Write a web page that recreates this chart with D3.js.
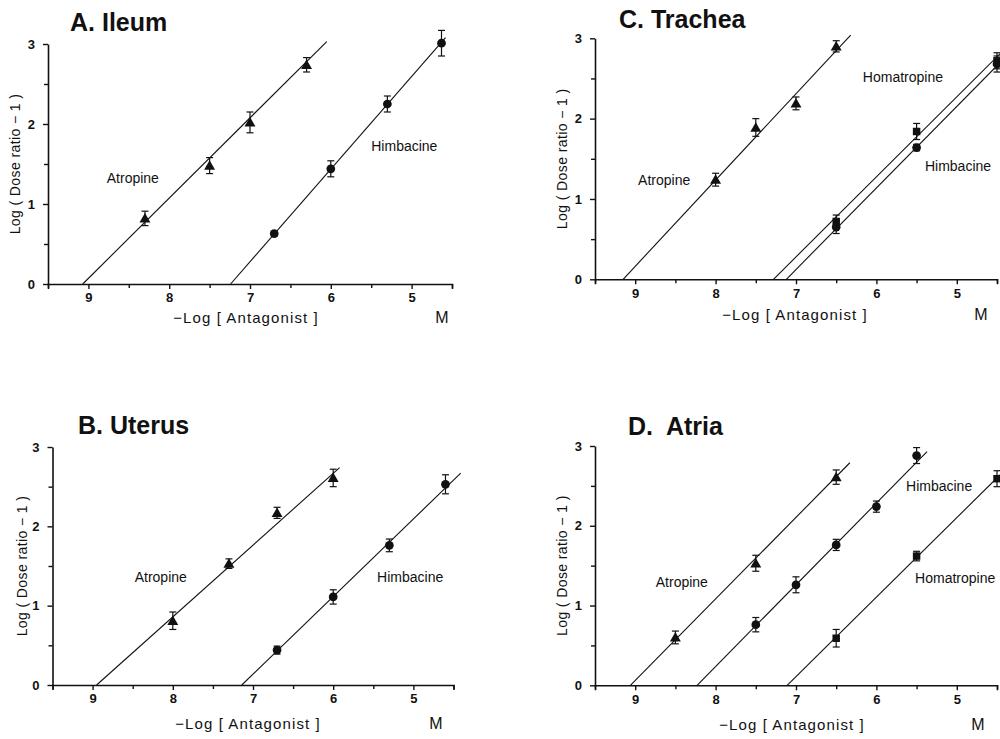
<!DOCTYPE html>
<html>
<head>
<meta charset="utf-8">
<script src="https://cdn.jsdelivr.net/npm/d3@7"></script>
<style>
  html, body { margin: 0; padding: 0; background: #fff; }
  svg { display: block; }
  text { font-family: "Liberation Sans", Arial, sans-serif; fill: #111; }
</style>
</head>
<body>
<svg id="chart" width="1000" height="739"></svg>
<script>
// ---------------- DATA ----------------
const xTicksMajor = [9, 8, 7, 6, 5];
const xTicksMinor = [9.5, 8.5, 7.5, 6.5, 5.5, 4.5];
const yTicksMajor = [0, 1, 2, 3];
const yTicksMinor = [0.5, 1.5, 2.5];
const yAxisTitle = "Log ( Dose ratio \u2212 1 )";
const xAxisTitle = "\u2212Log [ Antagonist ]";
const unitLabel = "M";

// Panel A. Ileum
const A_atropine_x = [8.3, 7.5, 7.0, 6.3];
const A_atropine_y = [0.82, 1.48, 2.02, 2.74];
const A_atropine_err = [0.09, 0.10, 0.13, 0.09];
const A_himbacine_x = [6.7, 6.0, 5.3, 4.63];
const A_himbacine_y = [0.63, 1.44, 2.25, 3.01];
const A_himbacine_err = [0.03, 0.10, 0.10, 0.16];
const A_atropine_fit = [[9.07, 0], [6.05, 3.03]];
const A_himbacine_fit = [[7.24, 0], [4.58, 3.08]];

// Panel B. Uterus
const B_atropine_x = [8.0, 7.3, 6.7, 6.0];
const B_atropine_y = [0.81, 1.53, 2.17, 2.61];
const B_atropine_err = [0.11, 0.06, 0.07, 0.11];
const B_himbacine_x = [6.7, 6.0, 5.3, 4.6];
const B_himbacine_y = [0.44, 1.11, 1.76, 2.53];
const B_himbacine_err = [0.05, 0.09, 0.08, 0.12];
const B_atropine_fit = [[8.95, 0], [5.92, 2.74]];
const B_himbacine_fit = [[7.14, 0], [4.41, 2.67]];

// Panel C. Trachea
const C_atropine_x = [8.0, 7.5, 7.0, 6.5];
const C_atropine_y = [1.24, 1.89, 2.19, 2.90];
const C_atropine_err = [0.08, 0.11, 0.08, 0.07];
const C_homatropine_x = [6.5, 5.5, 4.5];
const C_homatropine_y = [0.72, 1.84, 2.72];
const C_homatropine_err = [0.08, 0.10, 0.10];
const C_himbacine_x = [6.5, 5.5, 4.5];
const C_himbacine_y = [0.65, 1.64, 2.68];
const C_himbacine_err = [0.08, 0.04, 0.10];
const C_atropine_fit = [[9.15, 0], [6.32, 3.04]];
const C_homatropine_fit = [[7.28, 0], [4.46, 2.81]];
const C_himbacine_fit = [[7.12, 0], [4.46, 2.70]];

// Panel D. Atria
const D_atropine_x = [8.5, 7.5, 6.5];
const D_atropine_y = [0.60, 1.53, 2.61];
const D_atropine_err = [0.08, 0.10, 0.09];
const D_himbacine_x = [7.5, 7.0, 6.5, 6.0, 5.5];
const D_himbacine_y = [0.76, 1.26, 1.76, 2.24, 2.88];
const D_himbacine_err = [0.09, 0.10, 0.07, 0.07, 0.10];
const D_homatropine_x = [6.5, 5.5, 4.5];
const D_homatropine_y = [0.59, 1.62, 2.59];
const D_homatropine_err = [0.11, 0.06, 0.10];
const D_atropine_fit = [[9.06, 0], [6.33, 2.79]];
const D_himbacine_fit = [[8.23, 0], [5.37, 2.93]];
const D_homatropine_fit = [[7.11, 0], [4.46, 2.64]];

const titles = ["A. Ileum", "B. Uterus", "C. Trachea", "D.  Atria"];

// ---------------- LAYOUT ----------------
const panels = [
  { title: titles[0], xr: [48, 452], yr: [284, 44], titlePos: [70, 31], yLabX: 15, xLabY: 323, xLabCx: 246, mX: 442,
    series: [
      { shape: "triangle", x: A_atropine_x, y: A_atropine_y, e: A_atropine_err, fit: A_atropine_fit },
      { shape: "circle", x: A_himbacine_x, y: A_himbacine_y, e: A_himbacine_err, fit: A_himbacine_fit }
    ],
    labels: [ { t: "Atropine", x: 8.45, y: 1.33 }, { t: "Himbacine", x: 5.09, y: 1.73 } ] },
  { title: titles[1], xr: [52.5, 453.5], yr: [685, 447], titlePos: [78, 434], yLabX: 22, xLabY: 729, xLabCx: 248, mX: 436,
    series: [
      { shape: "triangle", x: B_atropine_x, y: B_atropine_y, e: B_atropine_err, fit: B_atropine_fit },
      { shape: "circle", x: B_himbacine_x, y: B_himbacine_y, e: B_himbacine_err, fit: B_himbacine_fit }
    ],
    labels: [ { t: "Atropine", x: 8.15, y: 1.36 }, { t: "Himbacine", x: 5.04, y: 1.36 } ] },
  { title: titles[2], xr: [595, 997], yr: [279.3, 38.3], titlePos: [619, 28], yLabX: 562, xLabY: 320, xLabCx: 795, mX: 981,
    series: [
      { shape: "triangle", x: C_atropine_x, y: C_atropine_y, e: C_atropine_err, fit: C_atropine_fit },
      { shape: "square", x: C_homatropine_x, y: C_homatropine_y, e: C_homatropine_err, fit: C_homatropine_fit },
      { shape: "circle", x: C_himbacine_x, y: C_himbacine_y, e: C_himbacine_err, fit: C_himbacine_fit }
    ],
    labels: [ { t: "Atropine", x: 8.64, y: 1.24 }, { t: "Homatropine", x: 5.67, y: 2.52 }, { t: "Himbacine", x: 4.985, y: 1.41 } ] },
  { title: titles[3], xr: [595, 997], yr: [685.3, 446], titlePos: [628, 435], yLabX: 562, xLabY: 730, xLabCx: 792, mX: 978,
    series: [
      { shape: "triangle", x: D_atropine_x, y: D_atropine_y, e: D_atropine_err, fit: D_atropine_fit },
      { shape: "circle", x: D_himbacine_x, y: D_himbacine_y, e: D_himbacine_err, fit: D_himbacine_fit },
      { shape: "square", x: D_homatropine_x, y: D_homatropine_y, e: D_homatropine_err, fit: D_homatropine_fit }
    ],
    labels: [ { t: "Atropine", x: 8.42, y: 1.29 }, { t: "Himbacine", x: 5.22, y: 2.50 }, { t: "Homatropine", x: 5.02, y: 1.34 } ] }
];

const svg = d3.select("#chart");

const symbolFor = {
  triangle: d3.symbol().type(d3.symbolTriangle).size(52),
  circle: d3.symbol().type(d3.symbolCircle).size(60),
  square: d3.symbol().type(d3.symbolSquare).size(56)
};

panels.forEach(p => {
  const x = d3.scaleLinear().domain([9.5, 4.5]).range(p.xr);
  const y = d3.scaleLinear().domain([0, 3]).range(p.yr);
  const g = svg.append("g");

  // Title
  g.append("text")
    .attr("x", p.titlePos[0]).attr("y", p.titlePos[1])
    .attr("font-size", 25).attr("font-weight", "bold")
    .style("white-space", "pre")
    .text(p.title);

  // X axis (major + minor)
  const xAxisG = g.append("g").attr("transform", `translate(0,${p.yr[0]})`);
  xAxisG.call(d3.axisBottom(x).tickValues(xTicksMajor).tickFormat(d3.format("d")).tickSize(5).tickSizeOuter(5).tickPadding(4));
  const xMinorG = g.append("g").attr("transform", `translate(0,${p.yr[0]})`);
  xMinorG.call(d3.axisBottom(x).tickValues(xTicksMinor).tickFormat("").tickSize(4).tickSizeOuter(0));
  xMinorG.select(".domain").remove();

  // Y axis
  const yAxisG = g.append("g").attr("transform", `translate(${p.xr[0]},0)`);
  yAxisG.call(d3.axisLeft(y).tickValues(yTicksMajor).tickFormat(d3.format("d")).tickSize(5).tickSizeOuter(0).tickPadding(8));
  const yMinorG = g.append("g").attr("transform", `translate(${p.xr[0]},0)`);
  yMinorG.call(d3.axisLeft(y).tickValues(yTicksMinor).tickFormat("").tickSize(4).tickSizeOuter(0));
  yMinorG.select(".domain").remove();

  [xAxisG, xMinorG, yAxisG, yMinorG].forEach(a => {
    a.selectAll(".domain").attr("stroke", "#111").attr("stroke-width", 1.6);
    a.selectAll(".tick line").attr("stroke", "#111").attr("stroke-width", 1.4);
    a.selectAll(".tick text").attr("font-size", 13).attr("font-weight", "bold")
      .style("font-family", "'Liberation Sans', Arial, sans-serif").attr("fill", "#111");
  });

  // Axis titles
  g.append("text")
    .attr("transform", `translate(${p.yLabX},${(p.yr[0] + p.yr[1]) / 2}) rotate(-90)`)
    .attr("text-anchor", "middle").attr("dy", "0.35em")
    .attr("font-size", 14).attr("letter-spacing", 0.4)
    .text(yAxisTitle);
  g.append("text")
    .attr("x", p.xLabCx).attr("y", p.xLabY)
    .attr("text-anchor", "middle").attr("font-size", 15).attr("letter-spacing", 1.1)
    .text(xAxisTitle);
  g.append("text")
    .attr("x", p.mX).attr("y", p.xLabY)
    .attr("text-anchor", "middle").attr("font-size", 16)
    .text(unitLabel);

  const line = d3.line().x(d => x(d[0])).y(d => y(d[1]));

  p.series.forEach(s => {
    // fitted regression line
    g.append("path").datum(s.fit)
      .attr("d", line)
      .attr("fill", "none").attr("stroke", "#111").attr("stroke-width", 1.1);

    const pts = s.x.map((v, i) => ({ x: v, y: s.y[i], e: s.e[i] }));
    // error bars
    const eb = g.append("g").attr("stroke", "#111").attr("stroke-width", 1.2);
    pts.forEach(d => {
      const cx = x(d.x), y1 = y(d.y + d.e), y2 = y(d.y - d.e);
      eb.append("line").attr("x1", cx).attr("x2", cx).attr("y1", y1).attr("y2", y2);
      eb.append("line").attr("x1", cx - 3.5).attr("x2", cx + 3.5).attr("y1", y1).attr("y2", y1);
      eb.append("line").attr("x1", cx - 3.5).attr("x2", cx + 3.5).attr("y1", y2).attr("y2", y2);
    });
    // markers
    g.selectAll(null).data(pts).enter().append("path")
      .attr("d", symbolFor[s.shape])
      .attr("transform", d => `translate(${x(d.x)},${y(d.y) + (s.shape === "triangle" ? 1 : 0)})`)
      .attr("fill", "#111");
  });

  // series labels
  p.labels.forEach(l => {
    g.append("text")
      .attr("x", x(l.x)).attr("y", y(l.y))
      .attr("text-anchor", "middle").attr("dy", "0.35em")
      .attr("font-size", 14)
      .text(l.t);
  });
});
</script>
</body>
</html>
